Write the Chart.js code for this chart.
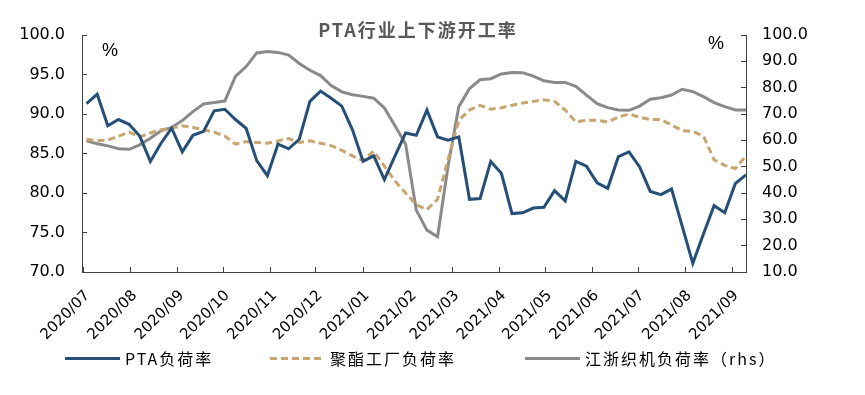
<!DOCTYPE html>
<html>
<head>
<meta charset="utf-8">
<script src="https://cdn.jsdelivr.net/npm/chart.js@4.4.0/dist/chart.umd.min.js"></script>
<style>
  html, body { margin: 0; padding: 0; background: #fff; }
  #wrap { position: relative; width: 865px; height: 395px; }
  #legend { position: absolute; left: 0; top: 346px; width: 865px; height: 24px;
            font-family: "Noto Sans CJK SC", sans-serif; font-size: 16px; letter-spacing: 2px; color: #000; }
  .item { position: absolute; top: 0; height: 24px; display: flex; align-items: center; white-space: nowrap; }
  .swatch { width: 55px; height: 3px; margin-right: 5px; }
</style>
</head>
<body>
<div id="wrap">
  <canvas id="chart"></canvas>
  <div id="legend"></div>
</div>
<script>
// semaines (vendredi) de juillet 2020 a septembre 2021
const weeks = [
  '2020/07/03','2020/07/10','2020/07/17','2020/07/24','2020/07/31','2020/08/07','2020/08/14','2020/08/21','2020/08/28',
  '2020/09/04','2020/09/11','2020/09/18','2020/09/25','2020/10/02','2020/10/09','2020/10/16','2020/10/23','2020/10/30',
  '2020/11/06','2020/11/13','2020/11/20','2020/11/27','2020/12/04','2020/12/11','2020/12/18','2020/12/25',
  '2021/01/01','2021/01/08','2021/01/15','2021/01/22','2021/01/29','2021/02/05','2021/02/12','2021/02/19','2021/02/26',
  '2021/03/05','2021/03/12','2021/03/19','2021/03/26','2021/04/02','2021/04/09','2021/04/16','2021/04/23','2021/04/30',
  '2021/05/07','2021/05/14','2021/05/21','2021/05/28','2021/06/04','2021/06/11','2021/06/18','2021/06/25',
  '2021/07/02','2021/07/09','2021/07/16','2021/07/23','2021/07/30','2021/08/06','2021/08/13','2021/08/20','2021/08/27',
  '2021/09/03','2021/09/10'
];
const tickLabels = ['2020/07','2020/08','2020/09','2020/10','2020/11','2020/12','2021/01','2021/02',
                    '2021/03','2021/04','2021/05','2021/06','2021/07','2021/08','2021/09'];

// PTA负荷率 (axe gauche)
const ptaRate = [
  91.3, 92.5, 88.5, 89.3, 88.7, 87.2, 84.0, 86.3, 88.2, 85.2,
  87.3, 87.8, 90.4, 90.6, 89.3, 88.2, 84.1, 82.2, 86.2, 85.6,
  86.8, 91.6, 92.9, 92.0, 91.0, 88.0, 84.0, 84.7, 81.7, 84.7,
  87.6, 87.3, 90.5, 87.1, 86.7, 87.1, 79.2, 79.3, 84.0, 82.5,
  77.4, 77.5, 78.1, 78.2, 80.3, 79.0, 84.0, 83.4, 81.3, 80.6,
  84.6, 85.2, 83.3, 80.2, 79.8, 80.5, 75.8, 71.1, 74.8, 78.4,
  77.5, 81.2, 82.3
];
// 聚酯工厂负荷率 (axe gauche)
const polyesterRate = [
  86.8, 86.6, 86.7, 87.2, 87.7, 87.1, 87.6, 88.0, 88.2, 88.5,
  88.3, 88.0, 87.7, 87.2, 86.2, 86.5, 86.4, 86.3, 86.6, 86.9,
  86.4, 86.6, 86.3, 86.0, 85.4, 84.7, 84.1, 85.3, 83.4, 81.5,
  80.0, 78.5, 77.9, 79.2, 84.3, 89.2, 90.5, 91.1, 90.6, 90.8,
  91.1, 91.4, 91.6, 91.8, 91.6, 90.5, 89.0, 89.2, 89.2, 89.0,
  89.6, 90.0, 89.6, 89.3, 89.3, 88.6, 87.9, 87.8, 87.2, 84.2,
  83.5, 83.1, 84.7
];
// 江浙织机负荷率 (axe droit)
const loomRate = [
  59.8, 58.7, 57.9, 56.8, 56.6, 58.3, 60.8, 63.6, 64.9, 67.5,
  70.9, 73.8, 74.4, 74.9, 84.3, 88.0, 93.2, 93.7, 93.4, 92.4,
  89.2, 86.6, 84.6, 80.8, 78.4, 77.3, 76.7, 76.0, 72.3, 65.5,
  58.5, 33.5, 25.9, 23.4, 50.5, 72.8, 79.6, 83.0, 83.4, 85.2,
  85.8, 85.7, 84.4, 82.6, 82.0, 82.0, 80.5, 77.2, 73.9, 72.4,
  71.5, 71.4, 73.0, 75.6, 76.2, 77.2, 79.4, 78.5, 76.6, 74.3,
  72.8, 71.5, 71.5
];

const chartTitle = 'PTA行业上下游开工率';
const seriesNames = ['PTA负荷率', '聚酯工厂负荷率', '江浙织机负荷率（rhs）'];
const colors = ['#264F78', '#C8A46E', '#8A8A8A'];

// date "aaaa/mm/jj" -> nombre de jours
function dayNum(s) {
  const p = s.split('/');
  return Date.UTC(+p[0], +p[1] - 1, +(p[2] || 1)) / 86400000;
}
const toPoints = values => values.map((v, i) => ({ x: dayNum(weeks[i]), y: v }));

const axisColor = '#404040';
const tickFamily = '"DejaVu Sans", sans-serif';

// titre et les deux "%"
const overlayText = {
  id: 'overlayText',
  afterDraw(chart) {
    const ctx = chart.ctx;
    const area = chart.chartArea;
    ctx.save();
    ctx.textAlign = 'center';
    ctx.textBaseline = 'middle';
    ctx.fillStyle = '#595959';
    ctx.font = 'bold 18px "Noto Sans CJK SC", sans-serif';
    ctx.letterSpacing = '2px';
    ctx.fillText(chartTitle, (area.left + area.right) / 2 + 4, 30);
    ctx.letterSpacing = '0px';
    ctx.fillStyle = '#000';
    ctx.font = '18px "Liberation Sans", Arial, sans-serif';
    ctx.fillText('%', area.left + 28, 51);
    ctx.fillText('%', area.right - 30, 44);
    ctx.restore();
  }
};

new Chart(document.getElementById('chart'), {
  type: 'line',
  data: {
    datasets: [
      { label: seriesNames[0], data: toPoints(ptaRate), yAxisID: 'y',
        borderColor: colors[0], borderWidth: 3, pointRadius: 0, tension: 0 },
      { label: seriesNames[1], data: toPoints(polyesterRate), yAxisID: 'y',
        borderColor: colors[1], borderWidth: 3, borderDash: [7, 4], pointRadius: 0, tension: 0 },
      { label: seriesNames[2], data: toPoints(loomRate), yAxisID: 'y1',
        borderColor: colors[2], borderWidth: 3, pointRadius: 0, tension: 0 }
    ]
  },
  options: {
    responsive: true,
    maintainAspectRatio: false,
    animation: false,
    layout: { padding: { top: 35, left: 0, right: 0, bottom: 0 } },
    plugins: { legend: { display: false }, title: { display: false }, tooltip: { enabled: false } },
    scales: {
      x: {
        type: 'linear',
        min: dayNum('2020/06/30'),
        max: dayNum('2021/09/10'),
        afterBuildTicks: scale => { scale.ticks = tickLabels.map(l => ({ value: dayNum(l) })); },
        afterFit: scale => { scale.height = 123; },
        ticks: { autoSkip: false, minRotation: 45, maxRotation: 45, padding: 20, labelOffset: 4, color: '#000',
                 font: { family: tickFamily, size: 15 }, callback: (v, i) => tickLabels[i] },
        grid: { drawOnChartArea: false, tickLength: -5, color: axisColor },
        border: { color: axisColor }
      },
      y: {
        position: 'left', min: 70, max: 100,
        afterFit: scale => { scale.width = 82; },
        ticks: { stepSize: 5, padding: 22, color: '#000', font: { family: tickFamily, size: 16 },
                 callback: v => v.toFixed(1) },
        grid: { drawOnChartArea: false, tickLength: -5, color: axisColor },
        border: { color: axisColor }
      },
      y1: {
        position: 'right', min: 10, max: 100,
        afterFit: scale => { scale.width = 119; },
        ticks: { stepSize: 10, padding: 21, color: '#000', font: { family: tickFamily, size: 16 },
                 callback: v => v.toFixed(1) },
        grid: { drawOnChartArea: false, tickLength: -5, color: axisColor },
        border: { color: axisColor }
      }
    }
  },
  plugins: [overlayText]
});

// legende en HTML sous le graphique
const legendPos = [65, 270, 525];
const legend = document.getElementById('legend');
seriesNames.forEach((name, i) => {
  const item = document.createElement('div');
  item.className = 'item';
  item.style.left = legendPos[i] + 'px';
  const sw = document.createElement('div');
  sw.className = 'swatch';
  sw.style.background = i === 1
    ? 'repeating-linear-gradient(90deg, ' + colors[1] + ' 0 7px, transparent 7px 11px)'
    : colors[i];
  const txt = document.createElement('span');
  txt.textContent = name;
  item.appendChild(sw);
  item.appendChild(txt);
  legend.appendChild(item);
});
</script>
</body>
</html>
